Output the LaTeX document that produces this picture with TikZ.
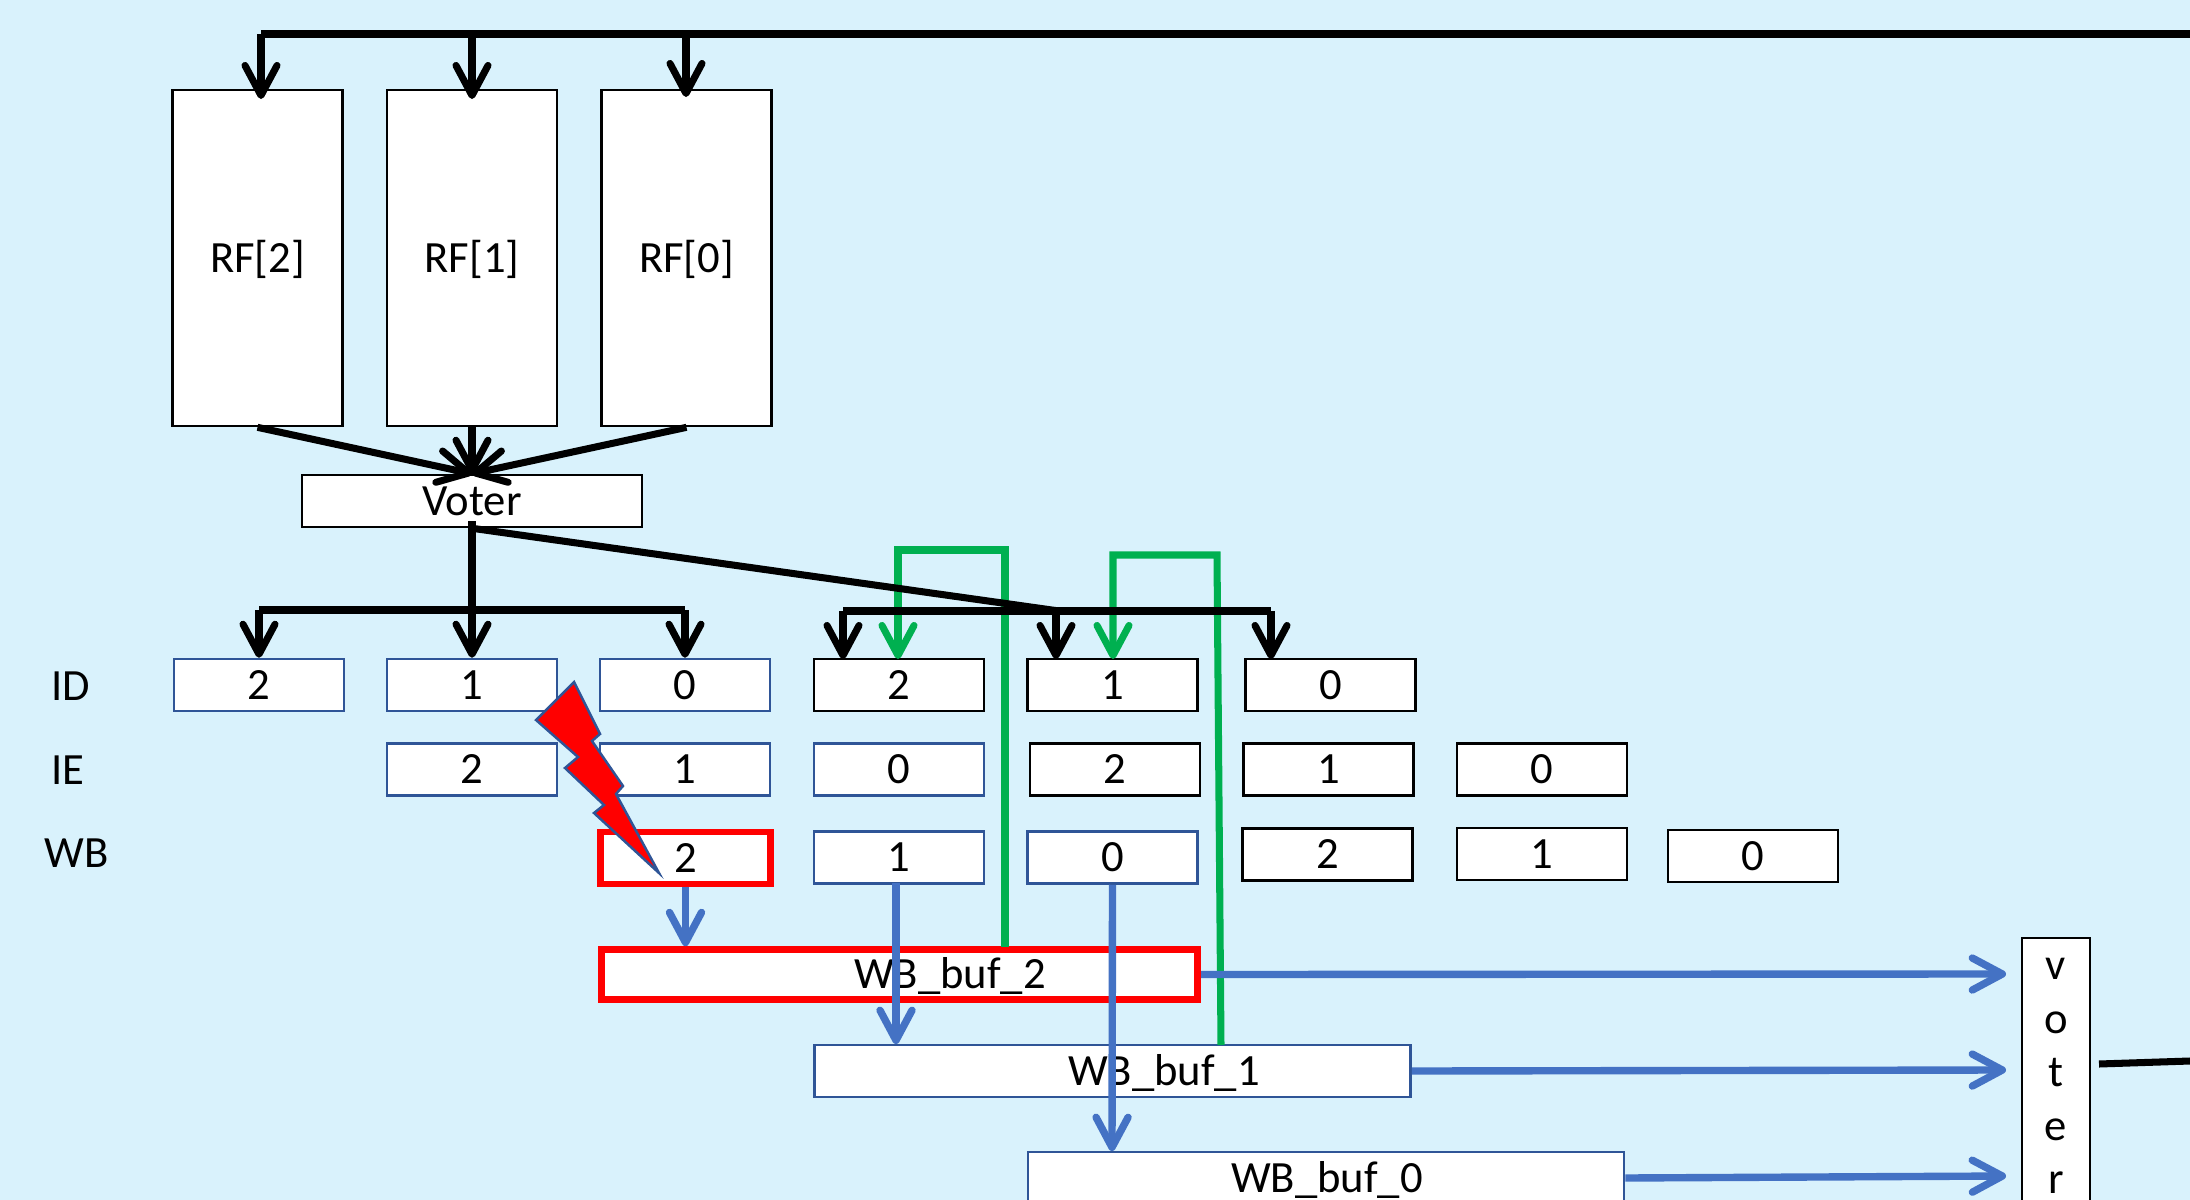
\documentclass[tikz,border=0pt]{standalone}
\usepackage{fontspec}
\setmainfont{Carlito}
\usetikzlibrary{arrows.meta}
\definecolor{bgblue}{HTML}{D9F2FC}
\definecolor{lineblue}{HTML}{4472C4}
\definecolor{edgeblue}{HTML}{2F5597}
\definecolor{linegreen}{HTML}{00B050}
\begin{document}
\begin{tikzpicture}[
  x=0.01cm, y=-0.01cm,
  font=\fontsize{12.7}{15.2}\selectfont,
  cell/.style={rectangle, draw=edgeblue, line width=0.7pt, fill=white, inner sep=0pt, text height=8.2pt, text depth=0pt, minimum width=1.7cm, minimum height=0.52cm},
  cellk/.style={cell, draw=black},
  cellr/.style={cell, draw=red, line width=1.9pt},
  rfbox/.style={cellk, minimum height=3.36cm},
  wide/.style={minimum width=5.96cm},
  bk/.style={line width=2pt, black},
  gr/.style={line width=2pt, linegreen},
  bl/.style={line width=2.1pt, lineblue},
  ar/.style={-{Straight Barb[length=3mm, width=3.2mm, round]}}
]
\useasboundingbox (0,0) rectangle (2190,1200);
\clip (0,0) rectangle (2190,1200);
\fill[bgblue] (0,0) rectangle (2190,1200);
\node[rfbox] (rf2) at (257.5,258) {RF[2]};
\node[rfbox] (rf1) at (472,258)   {RF[1]};
\node[rfbox] (rf0) at (686.5,258) {RF[0]};
\node[cellk, minimum width=3.4cm] (vot) at (472,501) {Voter};
\node (idl) at (71,686)  {ID};
\node (iel) at (68,770)  {IE};
\node (wbl) at (77,853)  {WB};
\node[cell]  (ida2) at (259,685)    {2};
\node[cell]  (ida1) at (472,685)    {1};
\node[cell]  (ida0) at (685,685)    {0};
\node[cellk] (idb2) at (899,685)    {2};
\node[cellk] (idb1) at (1112.5,685) {1};
\node[cellk] (idb0) at (1330.5,685) {0};
\node[cell]  (iea2) at (472,769.5)  {2};
\node[cell]  (iea1) at (685,769.5)  {1};
\node[cell]  (iea0) at (899,769.5)  {0};
\node[cellk] (ieb2) at (1115,769.5) {2};
\node[cellk] (ieb1) at (1328.5,769.5) {1};
\node[cellk] (ieb0) at (1542,769.5) {0};
\node[cellr] (wba2) at (685.5,858)  {2};
\node[cell]  (wba1) at (899,857.5)  {1};
\node[cell]  (wba0) at (1112.5,857.5) {0};
\node[cellk] (wbb2) at (1327.5,854.5) {2};
\node[cellk] (wbb1) at (1542,854)   {1};
\node[cellk] (wbb0) at (1753,856)   {0};
\node[cellr, wide, minimum height=0.5cm] (buf2) at (899.5,974.5) {};
\node[cell, wide] (buf1) at (1112.5,1071) {};
\node[cell, wide] (buf0) at (1326,1178)   {};
\node (tbuf2) at (950,976)   {WB\_buf\_2};
\node (tbuf1) at (1164,1073) {WB\_buf\_1};
\node (tbuf0) at (1327,1180) {WB\_buf\_0};
\node[cellk, text height=, text depth=, minimum width=0.68cm, minimum height=2.76cm, align=center] (vote) at (2056,1076) {v\\o\\t\\e\\r};
\coordinate (top) at (2190,34);
\coordinate (toptip2) at (261,99);
\coordinate (toptip1) at (472,99);
\coordinate (toptip0) at (686,97);
\coordinate (busa) at (472,610);
\coordinate (busb) at (1059,611);
\coordinate (tipb2) at (843,659);
\coordinate (tipb1) at (1056,659);
\coordinate (tipb0) at (1271,659);
\coordinate (g2s) at (1005,947);
\coordinate (g2t) at (898,659);
\coordinate (g1s) at (1221,1045);
\coordinate (g1t) at (1113,659);
\coordinate (in2) at (2006,974);
\coordinate (in1) at (2006,1070);
\coordinate (in0) at (2006,1176);
\coordinate (vs) at (2099,1064);
\coordinate (ve) at (2190,1061);
\coordinate (wb1s) at (896,883);
\coordinate (wb1t) at (896,1044);
\coordinate (wb0t) at (1112,1151);
\draw[gr, ar] (g2s) -- (1005,550) -- (898,550) -- (g2t);
\draw[gr, ar] (g1s) -- (1217,555) -- (1113,555) -- (g1t);
\draw[bk] (top) -- (toptip2 |- top);
\draw[bk, ar] (toptip2 |- top) -- (toptip2);
\draw[bk, ar] (toptip1 |- top) -- (toptip1);
\draw[bk, ar] (toptip0 |- top) -- (toptip0);
\draw[bk, ar] (rf2.south) -- (vot.north);
\draw[bk, ar] (rf1.south) -- (vot.north);
\draw[bk, ar] (rf0.south) -- (vot.north);
\draw[bk] (vot.south) ++(0,-7) -- (busa);
\draw[bk] (vot.south) -- (busb);
\draw[bk] (ida2.north |- busa) -- (ida0.north |- busa);
\draw[bk, ar] (ida2.north |- busa) -- (ida2.north);
\draw[bk, ar] (busa) -- (ida1.north);
\draw[bk, ar] (ida0.north |- busa) -- (ida0.north);
\draw[bk] (tipb2 |- busb) -- (tipb0 |- busb);
\draw[bk, ar] (tipb2 |- busb) -- (tipb2);
\draw[bk, ar] (tipb1 |- busb) -- (tipb1);
\draw[bk, ar] (tipb0 |- busb) -- (tipb0);
\draw[bk] (vs) -- (ve);
\draw[bl, ar] (wba2.south) -- (buf2.north -| wba2.south);
\draw[bl, ar] (wb1s) -- (wb1t);
\draw[bl, ar] (wba0.south) -- (wb0t);
\draw[bl, ar] (buf2.east) -- (in2);
\draw[bl, ar] (buf1.east) -- (in1);
\draw[bl, ar] (buf0.east) -- (in0);
\draw[fill=red, draw=edgeblue, line width=0.7pt] (574,682) -- (600,734) -- (592,741) -- (623,786) -- (616,794) -- (659,873) -- (594,813) -- (604,805) -- (565,768) -- (578,757) -- (536,720) -- cycle;
\end{tikzpicture}
\end{document}
